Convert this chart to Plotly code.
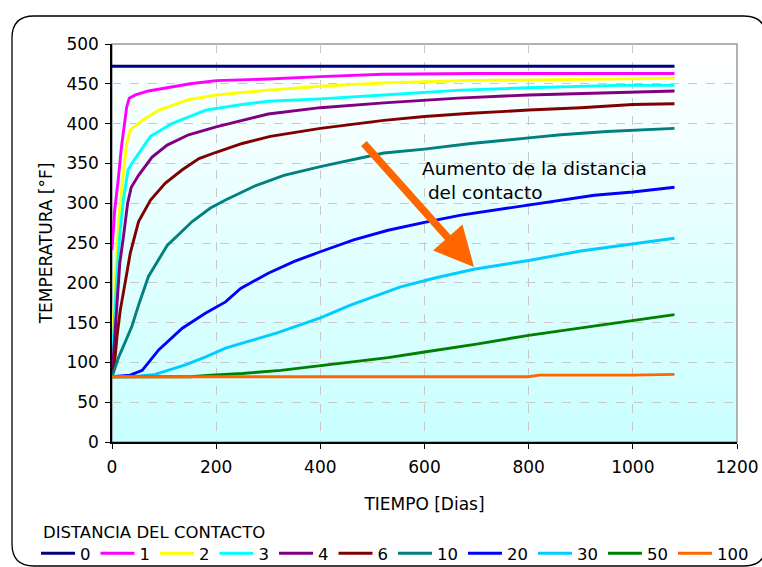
import plotly.graph_objects as go

# Temperature [°F] versus time [days] for each contact distance
distances = ["0", "1", "2", "3", "4", "6", "10", "20", "30", "50", "100"]
colors = ["#000080", "#ff00ff", "#ffff00", "#00ffff", "#800080", "#800000",
          "#008080", "#0000ff", "#00ccff", "#008000", "#ff6600"]

d0_t = [0, 1080]
d0_v = [472, 472]

d1_t = [0, 5, 12, 18, 24, 28, 33, 45, 70, 115, 150, 200, 300, 400, 520, 700, 900, 1080]
d1_v = [241, 290, 330, 370, 400, 420, 432, 436, 441, 446, 450, 454, 456, 459, 462, 463, 463, 463]

d2_t = [0, 5, 10, 15, 22, 28, 35, 58, 90, 147, 200, 300, 400, 520, 670, 800, 970, 1080]
d2_v = [118, 190, 250, 295, 342, 375, 392, 404, 417, 430, 436, 442, 447, 451, 454, 455, 457, 457]

d3_t = [0, 5, 10, 15, 22, 31, 38, 74, 115, 180, 250, 300, 400, 522, 670, 800, 970, 1080]
d3_v = [100, 160, 215, 260, 305, 342, 350, 384, 400, 417, 424, 428, 431, 436, 442, 445, 448, 448]

d4_t = [0, 5, 10, 15, 22, 30, 37, 51, 77, 106, 147, 200, 300, 400, 522, 665, 800, 1040, 1080]
d4_v = [82, 130, 185, 225, 258, 300, 320, 335, 358, 373, 386, 396, 412, 420, 426, 432, 436, 441, 441]

d6_t = [0, 5, 10, 16, 26, 35, 51, 74, 102, 135, 167, 200, 250, 304, 400, 522, 600, 689, 800, 900, 1000, 1080]
d6_v = [82, 100, 135, 166, 203, 237, 277, 304, 325, 342, 356, 364, 375, 384, 394, 404, 409, 413, 417, 420, 424, 425]

d10_t = [0, 13, 25, 38, 51, 70, 106, 154, 189, 218, 272, 330, 400, 522, 600, 689, 800, 862, 950, 1054, 1080]
d10_v = [82, 107, 125, 145, 172, 208, 247, 277, 294, 304, 321, 335, 346, 363, 368, 375, 382, 386, 390, 393, 394]

d20_t = [0, 35, 58, 90, 135, 180, 218, 247, 300, 350, 400, 464, 530, 600, 670, 750, 800, 926, 1000, 1080]
d20_v = [82, 84, 90, 116, 143, 162, 176, 193, 212, 227, 239, 254, 266, 276, 285, 293, 298, 310, 314, 320]

d30_t = [0, 40, 83, 141, 180, 218, 260, 317, 400, 458, 554, 620, 695, 800, 900, 1000, 1080]
d30_v = [82, 82, 85, 97, 107, 118, 126, 137, 156, 172, 195, 206, 217, 228, 240, 249, 256]

d50_t = [0, 150, 190, 250, 324, 388, 458, 530, 600, 700, 800, 900, 1000, 1080]
d50_v = [82, 82, 84, 86, 90, 95, 101, 106, 113, 123, 134, 143, 152, 160]

d100_t = [0, 800, 820, 1000, 1080]
d100_v = [82, 82, 84, 84, 85]

series_t = [d0_t, d1_t, d2_t, d3_t, d4_t, d6_t, d10_t, d20_t, d30_t, d50_t, d100_t]
series_v = [d0_v, d1_v, d2_v, d3_v, d4_v, d6_v, d10_v, d20_v, d30_v, d50_v, d100_v]

FONT = "DejaVu Sans"

# Plot-area geometry in pixels (used to place decorations outside the axes)
W, H = 762, 567
ML, MR, MT, MB = 112, 25, 44, 125
PW, PH = W - ML - MR, H - MT - MB


def px_x(px):
    return (px - ML) / PW


def px_y(py):
    return (H - MB - py) / PH


fig = go.Figure()
for name, col, t, v in zip(distances, colors, series_t, series_v):
    fig.add_trace(go.Scatter(x=t, y=v, mode="lines", name=name,
                             line=dict(color=col, width=2.9)))

shapes = []
# vertical white-to-cyan gradient behind the curves
nb = 60
top = (255, 255, 255)
bot = (200, 255, 255)
for i in range(nb):
    f = (i + 0.5) / nb
    c = tuple(round(top[k] + (bot[k] - top[k]) * f) for k in range(3))
    shapes.append(dict(type="rect", xref="paper", yref="paper",
                       x0=0, x1=1, y0=1 - (i + 1) / nb - 0.002, y1=1 - i / nb,
                       fillcolor="rgb(%d,%d,%d)" % c, line=dict(width=0),
                       layer="below"))
# gray frame around the plot area
shapes.append(dict(type="rect", xref="paper", yref="paper", x0=0, x1=1, y0=0, y1=1,
                   line=dict(color="#9a9a9a", width=1.5), layer="below"))

# rounded outer frame of the chart
L, T, R, B, r = 12, 16, 766, 566, 22
path = (f"M {px_x(L)},{px_y(T + r)} Q {px_x(L)},{px_y(T)} {px_x(L + r)},{px_y(T)} "
        f"L {px_x(R - r)},{px_y(T)} Q {px_x(R)},{px_y(T)} {px_x(R)},{px_y(T + r)} "
        f"L {px_x(R)},{px_y(B - r)} Q {px_x(R)},{px_y(B)} {px_x(R - r)},{px_y(B)} "
        f"L {px_x(L + r)},{px_y(B)} Q {px_x(L)},{px_y(B)} {px_x(L)},{px_y(B - r)} Z")
shapes.append(dict(type="path", xref="paper", yref="paper", path=path,
                   line=dict(color="#000000", width=1.3)))

annotations = [
    dict(x=695, y=220, xref="x", yref="y", ax=481, ay=377, axref="x", ayref="y",
         showarrow=True, arrowhead=2, arrowsize=1.05, arrowwidth=7.5,
         arrowcolor="#ff6600", text=""),
    dict(x=591, y=359, xref="x", yref="y", xanchor="left", yanchor="top",
         text="Aumento de la distancia<br>\u00a0del contacto", showarrow=False,
         align="left", font=dict(family=FONT, size=18.5, color="#000000")),
    # legend heading
    dict(x=px_x(41), y=px_y(532), xref="paper", yref="paper",
         xanchor="left", yanchor="middle", showarrow=False,
         text="DISTANCIA DEL CONTACTO",
         font=dict(family=FONT, size=16.5, color="#000000")),
]

fig.update_layout(
    width=W, height=H,
    margin=dict(l=ML, r=MR, t=MT, b=MB, autoexpand=False),
    paper_bgcolor="#ffffff", plot_bgcolor="#ffffff",
    font=dict(family=FONT, size=16, color="#000000"),
    shapes=shapes, annotations=annotations,
    showlegend=True,
    legend=dict(orientation="h", x=px_x(36), xanchor="left",
                y=px_y(536), yanchor="top",
                font=dict(family=FONT, size=16.5), bgcolor="rgba(0,0,0,0)",
                itemwidth=34, tracegroupgap=0),
    xaxis=dict(range=[0, 1200], dtick=200, tick0=0, showgrid=True,
               gridcolor="#c8c8c8", griddash="dash", gridwidth=1,
               showline=True, linecolor="#000000", linewidth=1.5,
               ticks="outside", ticklen=5, tickcolor="#000000",
               tickfont=dict(size=17), ticklabelstandoff=4,
               zeroline=False, title=dict(text="TIEMPO [Dias]", standoff=22,
                                          font=dict(size=17))),
    yaxis=dict(range=[0, 500], dtick=50, tick0=0, showgrid=True,
               gridcolor="#c8c8c8", griddash="dash", gridwidth=1,
               showline=True, linecolor="#000000", linewidth=1.5,
               ticks="outside", ticklen=5, tickcolor="#000000",
               tickfont=dict(size=17), ticklabelstandoff=3,
               zeroline=False, title=dict(text="TEMPERATURA [°F]", standoff=9,
                                          font=dict(size=17))),
)

fig.write_html("out.html")
